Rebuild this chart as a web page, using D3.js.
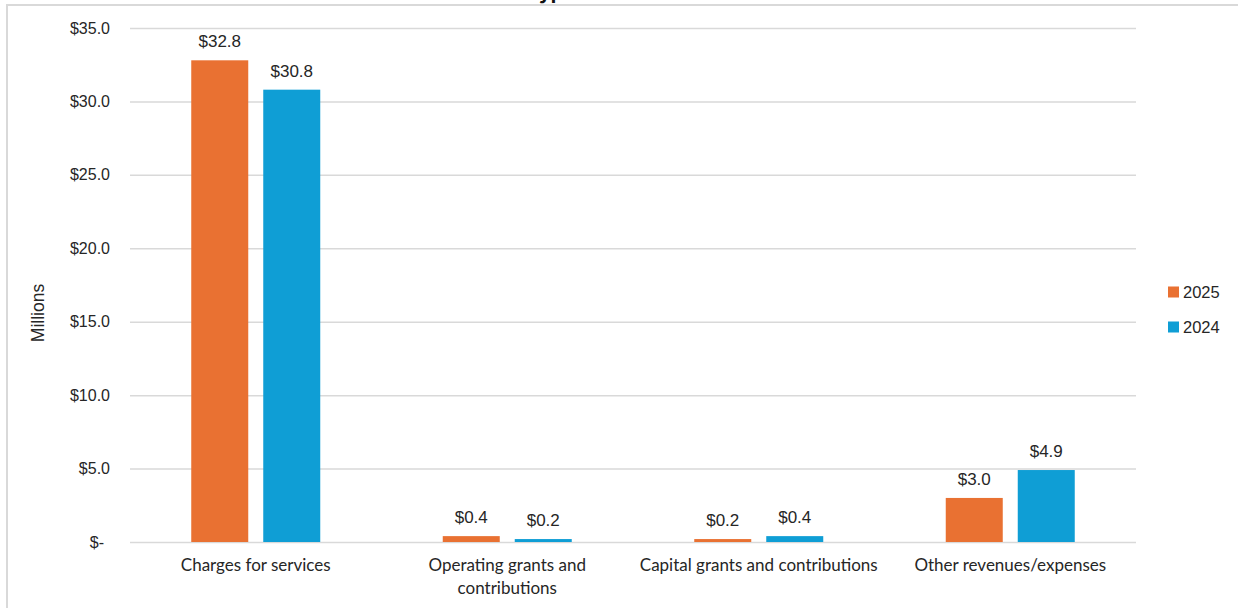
<!DOCTYPE html>
<html>
<head>
<meta charset="utf-8">
<script src="https://cdn.jsdelivr.net/npm/d3@7/dist/d3.min.js"></script>
<style>
  html, body { margin: 0; padding: 0; background: #fff; }
  svg { display: block; }
</style>
</head>
<body>
<svg id="chart" width="1238" height="608"></svg>
<script>
// Revenue by type, in millions of dollars
const categories = [
  ["Charges for services"],
  ["Operating grants and", "contributions"],
  ["Capital grants and contributions"],
  ["Other revenues/expenses"]
];
const seriesNames = ["2025", "2024"];
const values2025 = [32.8, 0.4, 0.2, 3.0];
const values2024 = [30.8, 0.2, 0.4, 4.9];
const yTicks = [0, 5, 10, 15, 20, 25, 30, 35];
const colors = ["#E97132", "#0F9ED5"];

const series = [values2025, values2024];

const svg = d3.select("#chart");
const W = 1238, H = 608;
const plot = { left: 130, right: 1136, top: 28, bottom: 542 };

// Outer chart frame
svg.append("rect")
  .attr("x", 7).attr("y", 5)
  .attr("width", W + 20).attr("height", H + 20)
  .attr("fill", "#fff")
  .attr("stroke", "#d9d9d9").attr("stroke-width", 2);

// Chart title (sits above the top of the frame)
svg.append("text")
  .attr("x", 437).attr("y", -1)
  .attr("font-family", "Inter, 'Noto Sans', sans-serif")
  .attr("font-weight", "bold")
  .attr("font-size", 20)
  .attr("fill", "#111")
  .text("Revenue Type");

const y = d3.scaleLinear().domain([0, 35]).range([plot.bottom, plot.top]);
const x0 = d3.scaleBand()
  .domain(d3.range(categories.length))
  .range([plot.left, plot.right])
  .paddingInner(0).paddingOuter(0);

const barW = 57, barGap = 15;

// Gridlines and y tick labels
const yAxis = d3.axisLeft(y)
  .tickValues(yTicks)
  .tickSize(-(plot.right - plot.left))
  .tickPadding(20)
  .tickFormat(d => d === 0 ? "$-" : "$" + d3.format(".1f")(d));

const gAxis = svg.append("g")
  .attr("transform", `translate(${plot.left},0)`)
  .call(yAxis);
gAxis.select(".domain").remove();
gAxis.selectAll(".tick line")
  .attr("stroke", "#d9d9d9").attr("stroke-width", 1.5);
gAxis.selectAll(".tick text")
  .attr("font-family", "Arial, 'Liberation Sans', sans-serif")
  .attr("font-size", 16)
  .attr("fill", "#262626");
gAxis.selectAll(".tick")
  .filter(d => d === 0)
  .select("text").attr("dx", -6);

// Y axis title
svg.append("text")
  .attr("transform", `translate(44,${313}) rotate(-90)`)
  .attr("text-anchor", "middle")
  .attr("font-family", "Arial, 'Liberation Sans', sans-serif")
  .attr("font-size", 17.5)
  .attr("fill", "#262626")
  .text("Millions");

// Bars and value labels
const groupW = barW * 2 + barGap;
const groups = svg.append("g").selectAll("g")
  .data(categories.map((c, i) => i))
  .join("g")
  .attr("transform", i => `translate(${x0(i) + x0.bandwidth() / 2 - groupW / 2},0)`);

seriesNames.forEach((name, s) => {
  const bx = s * (barW + barGap);
  groups.append("rect")
    .attr("x", bx)
    .attr("y", i => y(series[s][i]))
    .attr("width", barW)
    .attr("height", i => y(0) - y(series[s][i]))
    .attr("fill", colors[s]);
  groups.append("text")
    .attr("x", bx + barW / 2)
    .attr("y", i => y(series[s][i]) - 13)
    .attr("text-anchor", "middle")
    .attr("font-family", "Arial, 'Liberation Sans', sans-serif")
    .attr("font-size", 17)
    .attr("fill", "#262626")
    .text(i => "$" + d3.format(".1f")(series[s][i]));
});

// Category labels
const catText = svg.append("g").selectAll("text")
  .data(categories)
  .join("text")
  .attr("x", (d, i) => x0(i) + x0.bandwidth() / 2)
  .attr("y", 571)
  .attr("text-anchor", "middle")
  .attr("font-family", "Lato, 'Open Sans', sans-serif")
  .attr("font-size", 17)
  .attr("fill", "#262626");
catText.selectAll("tspan")
  .data(d => d)
  .join("tspan")
  .attr("x", function () { return d3.select(this.parentNode).attr("x"); })
  .attr("dy", (d, j) => j === 0 ? 0 : 23)
  .text(d => d);

// Legend
const legend = svg.append("g").selectAll("g")
  .data(seriesNames)
  .join("g")
  .attr("transform", (d, i) => `translate(1168,${292 + i * 35})`);
legend.append("rect")
  .attr("x", 0).attr("y", -5.5)
  .attr("width", 11).attr("height", 11)
  .attr("fill", (d, i) => colors[i]);
legend.append("text")
  .attr("x", 15).attr("y", 6)
  .attr("font-family", "Arial, 'Liberation Sans', sans-serif")
  .attr("font-size", 16.5)
  .attr("fill", "#262626")
  .text(d => d);
</script>
</body>
</html>
